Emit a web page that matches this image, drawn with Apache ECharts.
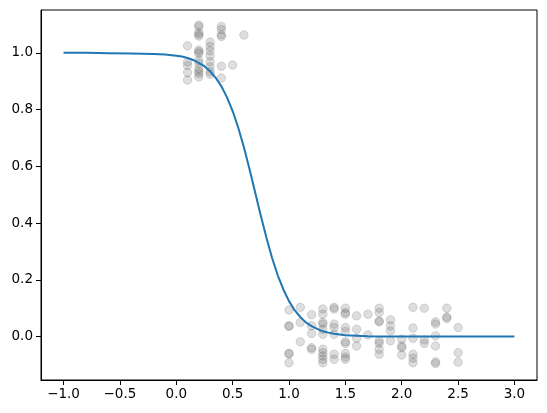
<!DOCTYPE html>
<html>
<head>
<meta charset="utf-8">
<script src="https://cdn.jsdelivr.net/npm/echarts@6/dist/echarts.min.js"></script>
<style>
html,body{margin:0;padding:0;background:#fff;}
#chart{width:547px;height:413px;}
</style>
</head>
<body>
<div id="chart"></div>
<script>
// Fitted curve, values
const curveX = [-1.0,-0.8,-0.6,-0.4,-0.3,-0.2,-0.1,0.0,0.05,0.1,0.15,0.2,0.25,0.3,0.35,0.4,0.45,0.5,0.55,0.6,0.65,0.7,0.75,0.8,0.85,0.9,0.95,1.0,1.05,1.1,1.15,1.2,1.25,1.3,1.35,1.4,1.5,1.6,1.7,1.8,2.0,2.2,2.5,2.8,3.0];
const curveY = [1.000,1.000,0.999,0.998,0.997,0.996,0.994,0.990,0.987,0.982,0.975,0.965,0.953,0.935,0.912,0.882,0.843,0.795,0.736,0.667,0.590,0.508,0.426,0.348,0.277,0.216,0.166,0.125,0.093,0.069,0.050,0.037,0.027,0.019,0.014,0.010,0.005,0.003,0.0014,0.0007,0.0002,0.0,0.0,0.0,0.0];

// Observed points (x, jittered y)
const pointX = [
  0.1,0.1,0.1,0.1,0.1,
  0.2,0.2,0.2,0.2,0.2,0.2,0.2,0.2,0.2,0.2,0.2,0.2,0.2,0.2,
  0.3,0.3,0.3,0.3,0.3,0.3,0.3,0.3,
  0.4,0.4,0.4,0.4,0.4,0.4,
  0.5,0.6,
  1.0,1.0,1.0,1.0,1.0,1.0,
  1.1,1.1,1.1,
  1.2,1.2,1.2,1.2,1.2,
  1.3,1.3,1.3,1.3,1.3,1.3,1.3,1.3,1.3,1.3,1.3,
  1.4,1.4,1.4,1.4,1.4,1.4,1.4,
  1.5,1.5,1.5,1.5,1.5,1.5,1.5,1.5,1.5,1.5,
  1.6,1.6,1.6,1.6,
  1.7,1.7,
  1.8,1.8,1.8,1.8,1.8,1.8,1.8,1.8,
  1.9,1.9,1.9,1.9,
  2.0,2.0,2.0,2.0,
  2.1,2.1,2.1,2.1,2.1,2.1,
  2.2,2.2,2.2,
  2.3,2.3,2.3,2.3,2.3,2.3,
  2.4,2.4,2.4,
  2.5,2.5,2.5
];
const pointY = [
  1.025,0.968,0.955,0.931,0.904,
  1.098,1.092,1.072,1.065,1.059,1.010,1.004,0.998,0.974,0.963,0.945,0.935,0.927,0.915,
  1.038,1.022,1.007,0.990,0.969,0.951,0.934,0.925,
  1.093,1.082,1.064,1.058,0.953,0.911,
  0.957,1.063,
  0.094,0.038,0.036,-0.059,-0.061,-0.092,
  0.103,0.050,-0.018,
  0.077,0.038,0.011,-0.039,-0.045,
  0.097,0.079,0.050,0.044,0.026,0.008,-0.045,-0.057,-0.068,-0.080,-0.092,
  0.103,0.097,0.044,0.032,0.008,-0.062,-0.080,
  0.100,0.085,0.079,0.032,0.018,-0.018,-0.024,-0.060,-0.072,-0.080,
  0.073,0.026,-0.006,-0.033,
  0.079,0.006,
  0.100,0.085,0.055,0.052,-0.015,-0.024,-0.045,-0.062,
  0.059,0.038,0.020,-0.015,
  -0.009,-0.033,-0.039,-0.065,
  0.103,0.030,-0.006,-0.062,-0.076,-0.092,
  0.100,-0.012,-0.024,
  0.052,0.044,0.003,-0.033,-0.089,-0.095,
  0.100,0.069,0.064,
  0.032,-0.057,-0.090
];

const xTicks = [-1.0,-0.5,0.0,0.5,1.0,1.5,2.0,2.5,3.0];
const yTicks = [0.0,0.2,0.4,0.6,0.8,1.0];

const fmt = v => v.toFixed(1).replace('-', '\u2212');
const font = '"DejaVu Sans", sans-serif';

const chart = echarts.init(document.getElementById('chart'), null, {renderer:'canvas'});
chart.setOption({
  animation: false,
  backgroundColor: '#fff',
  grid: {left: 41, right: 10, top: 10, bottom: 33, show: true, borderColor: '#000', borderWidth: 1, backgroundColor: 'transparent'},
  xAxis: {
    type: 'value', min: -1.2, max: 3.2,
    axisLine: {show: true, onZero: false, lineStyle: {color: '#000', width: 1}},
    axisTick: {show: true, inside: false, length: 5, lineStyle: {color: '#000', width: 1}, customValues: xTicks},
    axisLabel: {show: true, margin: 7, color: '#000', fontFamily: font, fontSize: 13.5, customValues: xTicks, formatter: fmt},
    splitLine: {show: false}
  },
  yAxis: {
    type: 'value', min: -0.153, max: 1.151,
    axisLine: {show: true, onZero: false, lineStyle: {color: '#000', width: 1}},
    axisTick: {show: true, inside: false, length: 5, lineStyle: {color: '#000', width: 1}, customValues: yTicks},
    axisLabel: {show: true, margin: 8, color: '#000', fontFamily: font, fontSize: 13.5, customValues: yTicks, formatter: fmt},
    splitLine: {show: false}
  },
  series: [
    {
      type: 'scatter',
      symbol: 'circle',
      symbolSize: 8.5,
      data: pointX.map((x, i) => [x, pointY[i]]),
      itemStyle: {color: 'rgba(70,70,70,0.18)', borderColor: 'rgba(70,70,70,0.18)', borderWidth: 1, opacity: 1},
      emphasis: {disabled: true},
      z: 2
    },
    {
      type: 'line',
      data: curveX.map((x, i) => [x, curveY[i]]),
      showSymbol: false,
      smooth: false,
      lineStyle: {color: '#1f77b4', width: 2, join: 'round'},
      emphasis: {disabled: true},
      z: 3
    }
  ]
});
</script>
</body>
</html>
